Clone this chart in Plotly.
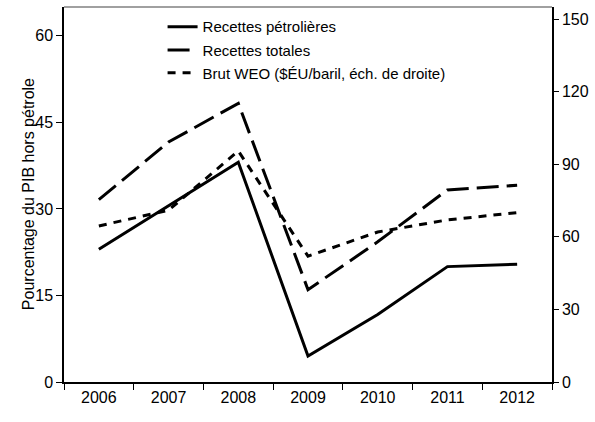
import plotly.graph_objects as go

years = ["2006", "2007", "2008", "2009", "2010", "2011", "2012"]
recettes_petrolieres = [23.0, 30.6, 38.1, 4.5, 11.7, 20.0, 20.4]
recettes_totales = [31.6, 41.6, 48.3, 16.0, 24.3, 33.3, 34.1]
brut_weo = [64.5, 71.0, 95.5, 52.0, 62.0, 67.0, 70.0]

font = "Liberation Sans, Arial, sans-serif"

fig = go.Figure()
fig.add_trace(go.Scatter(
    x=years, y=recettes_petrolieres, name="Recettes pétrolières",
    mode="lines", line=dict(color="black", width=3), legend="legend",
))
fig.add_trace(go.Scatter(
    x=years, y=recettes_totales, name="Recettes totales",
    mode="lines", line=dict(color="black", width=3, dash="22px,8px"), legend="legend2",
))
fig.add_trace(go.Scatter(
    x=years, y=brut_weo, name="Brut WEO ($ÉU/baril, éch. de droite)",
    mode="lines", line=dict(color="black", width=3, dash="8px,7px"),
    yaxis="y2", legend="legend3",
))

leg = dict(bgcolor="rgba(0,0,0,0)", font=dict(family=font, size=15, color="black"),
           xanchor="left", yanchor="middle", x=0.202)
fig.update_layout(
    width=595, height=422,
    margin=dict(l=64, r=43, t=7, b=40),
    paper_bgcolor="white", plot_bgcolor="white",
    font=dict(family=font, size=16, color="black"),
    showlegend=True,
    legend=dict(leg, y=0.947),
    legend2=dict(leg, y=0.885),
    legend3=dict(leg, y=0.824),
    xaxis=dict(
        type="category", range=[-0.5, 6.5], tickson="boundaries",
        ticks="outside", ticklen=6, tickcolor="black", automargin=False,
        showline=True, linecolor="black", linewidth=1.5, showgrid=False,
        tickfont=dict(size=16),
    ),
    yaxis=dict(
        range=[0, 65], dtick=15, tick0=0, automargin=False,
        ticks="outside", ticklen=6, tickcolor="black",
        showline=True, linecolor="black", linewidth=1.5, showgrid=False, zeroline=False,
        tickfont=dict(size=16),
    ),
    yaxis2=dict(
        range=[0, 155], dtick=30, tick0=0, overlaying="y", side="right", automargin=False,
        ticks="outside", ticklen=5, tickcolor="black",
        showline=True, linecolor="black", linewidth=1.5, showgrid=False, zeroline=False,
        tickfont=dict(size=16),
    ),
)

# top border of the plot frame (grey)
fig.add_shape(type="line", xref="paper", yref="paper", x0=0, x1=1, y0=1, y1=1,
              line=dict(color="#808080", width=1.5))

# left axis title
fig.add_annotation(text="Pourcentage du PIB hors pétrole", xref="paper", yref="paper",
                   x=-0.094, y=0.5, textangle=-90, showarrow=False, font=dict(size=16))

# right axis title, mostly cut off by the page edge
fig.add_annotation(text="$ÉU/baril", xref="paper", yref="paper", x=1.086, y=0.48,
                   xanchor="left", textangle=-90, showarrow=False, font=dict(size=16))

# drop the browser's default body margin so the figure sits at the page corner
fig.write_html("out.html", config={"displayModeBar": False},
               post_script="document.body.style.margin='0';")
